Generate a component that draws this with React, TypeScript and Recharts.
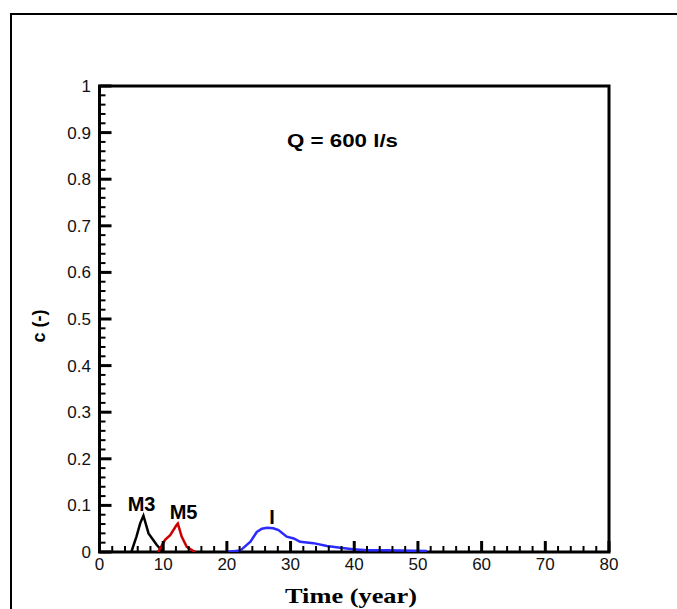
import React from 'react';
import { LineChart, Line, XAxis, YAxis, ReferenceArea, ReferenceDot, Customized } from 'recharts';

const xMajorTicks = [0, 10, 20, 30, 40, 50, 60, 70, 80];
const yMajorTicks = [0, 0.1, 0.2, 0.3, 0.4, 0.5, 0.6, 0.7, 0.8, 0.9, 1];
const xAllTicks = Array.from({ length: 41 }, (_, i) => i * 2);
const yAllTicks = Array.from({ length: 51 }, (_, i) => +(i * 0.02).toFixed(2));

const m3Data = [
  { t: 5.0, c: 0 },
  { t: 5.8, c: 0.033 },
  { t: 6.4, c: 0.062 },
  { t: 6.9, c: 0.078 },
  { t: 7.7, c: 0.04 },
  { t: 9.0, c: 0.015 },
  { t: 10.0, c: 0 },
];

const m5Data = [
  { t: 9.2, c: 0 },
  { t: 10.3, c: 0.026 },
  { t: 11.1, c: 0.036 },
  { t: 12.1, c: 0.058 },
  { t: 12.3, c: 0.061 },
  { t: 12.9, c: 0.033 },
  { t: 13.7, c: 0.011 },
  { t: 15.0, c: 0 },
];

const iData = [
  { t: 20.0, c: 0 },
  { t: 22.1, c: 0.003 },
  { t: 23.7, c: 0.022 },
  { t: 24.7, c: 0.043 },
  { t: 25.5, c: 0.05 },
  { t: 26.3, c: 0.052 },
  { t: 27.3, c: 0.051 },
  { t: 28.1, c: 0.047 },
  { t: 29.4, c: 0.033 },
  { t: 30.5, c: 0.029 },
  { t: 31.5, c: 0.022 },
  { t: 33.6, c: 0.019 },
  { t: 35.7, c: 0.013 },
  { t: 37.8, c: 0.009 },
  { t: 39.8, c: 0.006 },
  { t: 42.0, c: 0.004 },
  { t: 45.1, c: 0.004 },
  { t: 47.2, c: 0.003 },
  { t: 51.4, c: 0.002 },
];

const seriesLabels = [
  { text: 'M3', t: 6.6, c: 0.104 },
  { text: 'M5', t: 13.2, c: 0.086 },
  { text: 'I', t: 27.1, c: 0.076 },
];

const titleText = 'Q = 600 l/s';
const xTitle = 'Time (year)';
const yTitle = 'c (-)';

const SANS = '"Liberation Sans", Arial, sans-serif';
const SERIF = '"Liberation Serif", "Times New Roman", serif';

const isMajorX = (v: number) => xMajorTicks.includes(v);
const isMajorY = (v: number) => yMajorTicks.some((m) => Math.abs(m - v) < 1e-6);

const XTick = (props: any) => {
  const { x, y, payload } = props;
  const v = payload.value;
  const major = isMajorX(v);
  return (
    <g>
      <line x1={x} x2={x} y1={y} y2={y - (major ? 11 : 6)} stroke="#000" strokeWidth={major ? 3 : 2} />
      {major && (
        <text x={x} y={y + 18} textAnchor="middle" fontFamily={SANS} fontSize={17} fill="#111">
          {String(v)}
        </text>
      )}
    </g>
  );
};

const YTick = (props: any) => {
  const { x, y, payload } = props;
  const v = payload.value;
  const major = isMajorY(v);
  const label = v === 0 ? '0' : v === 1 ? '1' : v.toFixed(1);
  return (
    <g>
      <line x1={x} x2={x + (major ? 12 : 6)} y1={y} y2={y} stroke="#000" strokeWidth={major ? 3 : 2} />
      {major && (
        <text x={x - 8.5} y={y + 6} textAnchor="end" fontFamily={SANS} fontSize={17} fill="#111">
          {label}
        </text>
      )}
    </g>
  );
};

const Texts = () => (
  <g>
    <text x={342.5} y={147} textAnchor="middle" fontFamily={SANS} fontWeight="bold" fontSize={18} textLength={111} lengthAdjust="spacingAndGlyphs" fill="#000">
      {titleText}
    </text>
    <text x={285} y={603} fontFamily={SERIF} fontWeight="bold" fontSize={22} textLength={132} lengthAdjust="spacingAndGlyphs" fill="#000">
      {xTitle}
    </text>
    <text x={45} y={326} transform="rotate(-90 45 326)" textAnchor="middle" fontFamily={SANS} fontWeight="bold" fontSize={18} fill="#000">
      {yTitle}
    </text>
  </g>
);

export default function App() {
  return (
    <div style={{ position: 'absolute', left: 0, top: 0, width: 677, height: 609, overflow: 'hidden', background: '#fff' }}>
      <div
        style={{
          position: 'absolute',
          left: 10,
          top: 13,
          width: 800,
          height: 800,
          borderLeft: '2px solid #000',
          borderTop: '2px solid #000',
          boxSizing: 'border-box',
        }}
      />
      <div style={{ position: 'absolute', left: 0, top: 0 }}>
        <LineChart width={677} height={609} margin={{ top: 86, right: 68, bottom: 27, left: 0 }}>
          <XAxis
            dataKey="t"
            type="number"
            domain={[0, 80]}
            ticks={xAllTicks}
            interval={0}
            tickSize={0}
            tickMargin={0}
            tickLine={false}
            axisLine={false}
            height={30}
            tick={<XTick />}
            allowDataOverflow
          />
          <YAxis
            dataKey="c"
            type="number"
            domain={[0, 1]}
            ticks={yAllTicks}
            interval={0}
            tickSize={0}
            tickMargin={0}
            tickLine={false}
            axisLine={false}
            width={99.5}
            tick={<YTick />}
            allowDataOverflow
          />
          <ReferenceArea x1={0} x2={80} y1={0} y2={1} fill="none" stroke="#000" strokeWidth={3} ifOverflow="visible" />
          <Line data={m3Data} dataKey="c" type="linear" stroke="#000" strokeWidth={2.5} dot={false} isAnimationActive={false} />
          <Line data={m5Data} dataKey="c" type="linear" stroke="#cc0000" strokeWidth={2.5} dot={false} isAnimationActive={false} />
          <Line data={iData} dataKey="c" type="linear" stroke="#2b2bff" strokeWidth={2.5} dot={false} isAnimationActive={false} />
          {seriesLabels.map((l) => (
            <ReferenceDot
              key={l.text}
              x={l.t}
              y={l.c}
              r={0}
              fill="none"
              stroke="none"
              ifOverflow="visible"
              label={{ value: l.text, position: 'center', fontFamily: SANS, fontWeight: 'bold', fontSize: 20, fill: '#000' }}
            />
          ))}
          <Customized component={Texts} />
        </LineChart>
      </div>
    </div>
  );
}
